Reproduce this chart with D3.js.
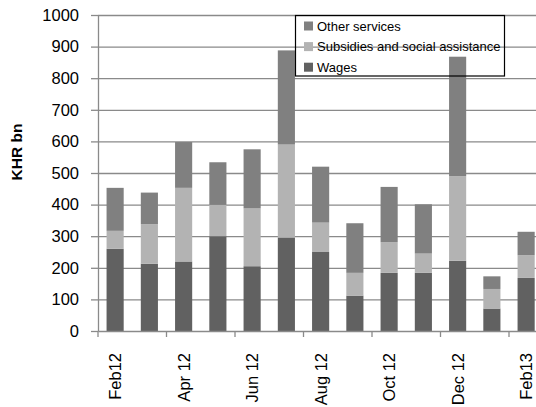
<!DOCTYPE html>
<html>
<head>
<meta charset="utf-8">
<script src="https://cdn.jsdelivr.net/npm/d3@7/dist/d3.min.js"></script>
<style>
  html, body { margin: 0; padding: 0; background: #fff; }
  svg { display: block; }
  text { font-family: "Liberation Sans", Arial, sans-serif; fill: #000; }
</style>
</head>
<body>
<svg id="chart" width="536" height="407"></svg>
<script>
const categories = ["Feb12","Mar 12","Apr 12","May 12","Jun 12","Jul 12","Aug 12","Sep 12","Oct 12","Nov 12","Dec 12","Jan 13","Feb13"];
const wages      = [260, 213, 220, 300, 205, 296, 250, 112, 184, 184, 222, 71, 168];
const subsidies  = [ 57, 125, 233,  99, 183, 294,  93,  72,  97,  61, 268, 62,  72];
const other      = [136, 100, 145, 135, 187, 298, 177, 157, 175, 156, 378, 40,  74];
const seriesNames = ["Wages", "Subsidies and social assistance", "Other services"];
const seriesColors = ["#616161", "#b3b3b3", "#808080"];
const yTicks = [0,100,200,300,400,500,600,700,800,900,1000];
const xLabelIdx = [0,2,4,6,8,10,12];

const svg = d3.select("#chart");
const mLeft = 98, mTop = 15, mBottom = 331;
const step = 34.25;
const mRight = mLeft + categories.length * step;

const x = d3.scaleBand().domain(categories).range([mLeft, mRight]).paddingInner(0.5).paddingOuter(0.25);
const y = d3.scaleLinear().domain([0, 1000]).range([mBottom, mTop]);

const gridColor = "#8a8a8a";

// gridlines
const grid = svg.append("g").attr("transform", `translate(${mLeft},0)`)
  .call(d3.axisLeft(y).tickValues(yTicks.slice(1)).tickSize(-(mRight - mLeft)).tickFormat(""));
grid.select(".domain").remove();
grid.selectAll("line").attr("stroke", gridColor).attr("stroke-width", 1.3);

// stacked bars
const table = categories.map((c, i) => ({cat: c, Wages: wages[i], "Subsidies and social assistance": subsidies[i], "Other services": other[i]}));
const stack = d3.stack().keys(seriesNames)(table);
svg.append("g").selectAll("g").data(stack).join("g")
  .attr("fill", (d, i) => seriesColors[i])
  .selectAll("rect").data(d => d).join("rect")
  .attr("x", d => x(d.data.cat))
  .attr("width", x.bandwidth())
  .attr("y", d => y(d[1]))
  .attr("height", d => y(d[0]) - y(d[1]));

// y axis
const yAxis = svg.append("g").attr("transform", `translate(${mLeft},0)`)
  .call(d3.axisLeft(y).tickValues(yTicks).tickFormat(d3.format("d")).tickSize(7).tickPadding(12).tickSizeOuter(0));
yAxis.select(".domain").attr("stroke", gridColor).attr("stroke-width", 1.3);
yAxis.selectAll("line").attr("stroke", gridColor).attr("stroke-width", 1.3);
yAxis.selectAll("text").style("font-size", "16.5px").attr("font-family", "Liberation Sans, Arial, sans-serif").attr("fill", "#000");

// x axis line and ticks
const tickPos = xLabelIdx.map(i => x(categories[i]) - x.step() * 0.25);
const xAxis = svg.append("g").attr("transform", `translate(0,${mBottom})`)
  .call(d3.axisBottom(x).tickValues([]).tickSizeOuter(0));
xAxis.select(".domain").attr("stroke", gridColor).attr("stroke-width", 1.3);
xAxis.selectAll(".tk").data(tickPos).join("line").attr("class","tk")
  .attr("x1", d => d).attr("x2", d => d).attr("y1", 0).attr("y2", 6)
  .attr("stroke", gridColor).attr("stroke-width", 1.3);

// x labels
svg.append("g").selectAll("text").data(xLabelIdx).join("text")
  .attr("transform", i => `translate(${x(categories[i]) + x.bandwidth()/2 + 6},353) rotate(-90)`)
  .attr("text-anchor", "end")
  .style("font-size", "16.5px")
  .text(i => categories[i]);

// y title
svg.append("text")
  .attr("transform", "translate(22,152) rotate(-90)")
  .attr("text-anchor", "middle")
  .style("font-size", "15.5px").style("font-weight", "bold")
  .text("KHR bn");

// legend
const legend = svg.append("g");
legend.append("rect").attr("x", 295.5).attr("y", 15.5).attr("width", 209).attr("height", 60.5)
  .attr("fill", "none").attr("stroke", "#000").attr("stroke-width", 1.2);
const legOrder = [2, 1, 0];
legOrder.forEach((si, r) => {
  const cy = 26 + r * 20.6;
  legend.append("rect").attr("x", 304).attr("y", cy - 4.5).attr("width", 9).attr("height", 9).attr("fill", seriesColors[si]);
  legend.append("text").attr("x", 317).attr("y", cy + 4.8).style("font-size", "13px").text(seriesNames[si]);
});
</script>
</body>
</html>
